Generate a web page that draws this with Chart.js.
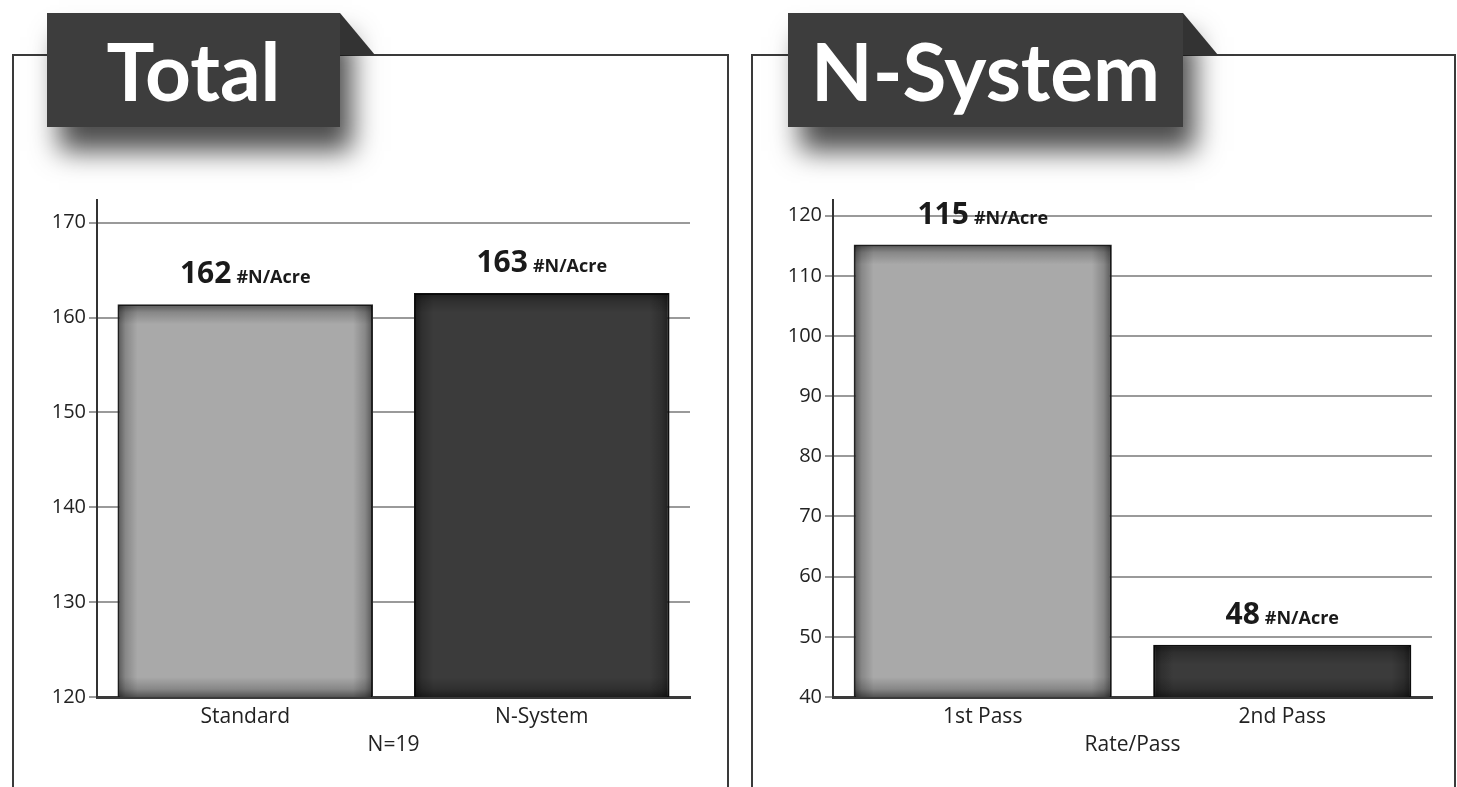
<!DOCTYPE html>
<html>
<head>
<meta charset="utf-8">
<script src="https://cdn.jsdelivr.net/npm/chart.js@4.4.1/dist/chart.umd.min.js"></script>
<style>
  body { margin: 0; width: 1457px; height: 787px; overflow: hidden; background: #fff; position: relative; }
  .frame { position: absolute; top: 54px; height: 800px; border: 2px solid #3a3a3a; box-sizing: border-box; }
  #frameL { left: 12px; width: 717px; }
  #frameR { left: 751px; width: 705px; }
  .tab { position: absolute; top: 13px; height: 114px; background: #3d3d3d; color: #fff;
         font: bold 80px Lato, sans-serif; line-height: 114px; text-align: center;
         box-shadow: 12px 24px 26px rgba(0,0,0,0.7); }
  .fold { position: absolute; top: 13px; width: 35px; height: 42px; background: #333;
          clip-path: polygon(0 0, 100% 100%, 0 100%); }
  .box { position: absolute; top: 185px; height: 600px; }
</style>
</head>
<body>
<div class="frame" id="frameL"></div>
<div class="frame" id="frameR"></div>
<div class="tab" style="left:47px;width:293px">Total</div>
<div class="fold" style="left:340px"></div>
<div class="tab" style="left:788px;width:395px">N-System</div>
<div class="fold" style="left:1183px"></div>

<div class="box" style="left:20px;width:680px"><canvas id="totalChart"></canvas></div>
<div class="box" style="left:760px;width:682px"><canvas id="passChart"></canvas></div>

<script>
// Data
const totalCats = ["Standard", "N-System"];
const totalValues = [161.4, 162.6];
const totalTags = ["162", "163"];
const totalTicks = [120, 130, 140, 150, 160, 170];

const passCats = ["1st Pass", "2nd Pass"];
const passValues = [115.2, 48.7];
const passTags = ["115", "48"];
const passTicks = [40, 50, 60, 70, 80, 90, 100, 110, 120];

const UNIT = "#N/Acre";
const barColors = ["#a9a9a9", "#3b3b3b"];
const barEdges = ["#2a2a2a", "#111"];
const FONT = "'Open Sans', sans-serif";

// darkened inner edges on each bar
const bevel = {
    id: "bevel",
    afterDatasetsDraw(chart) {
        const ctx = chart.ctx;
        const yScale = chart.scales.y;
        const bottom = yScale.getPixelForValue(yScale.min);
        chart.getDatasetMeta(0).data.forEach(function (bar) {
            const l = bar.x - bar.width / 2, r = bar.x + bar.width / 2, t = bar.y, b = bottom;
            const d = 20;
            ctx.save();
            ctx.beginPath();
            ctx.rect(l + 1, t + 1, r - l - 2, b - t - 1);
            ctx.clip();
            const sides = [
                [l, t, l + d, t, l, t, d, b - t],
                [r, t, r - d, t, r - d, t, d, b - t],
                [l, t, l, t + d, l, t, r - l, d],
                [l, b, l, b - d, l, b - d, r - l, d]
            ];
            sides.forEach(function (s) {
                const g = ctx.createLinearGradient(s[0], s[1], s[2], s[3]);
                g.addColorStop(0, "rgba(0,0,0,0.5)");
                g.addColorStop(0.4, "rgba(0,0,0,0.2)");
                g.addColorStop(1, "rgba(0,0,0,0)");
                ctx.fillStyle = g;
                ctx.fillRect(s[4], s[5], s[6], s[7]);
            });
            ctx.restore();
        });
    }
};

// "162 #N/Acre" above each bar
const valueTag = {
    id: "valueTag",
    afterDatasetsDraw(chart, args, opts) {
        const ctx = chart.ctx;
        chart.getDatasetMeta(0).data.forEach(function (bar, i) {
            const num = opts.tags[i];
            ctx.save();
            ctx.fillStyle = "#1a1a1a";
            ctx.textBaseline = "alphabetic";
            ctx.textAlign = "left";
            ctx.font = "bold 30px " + FONT;
            const w1 = ctx.measureText(num).width;
            ctx.font = "bold 18px " + FONT;
            const w2 = ctx.measureText(UNIT).width;
            const gap = 5;
            const x0 = bar.x - (w1 + gap + w2) / 2;
            const yb = bar.y - 21;
            ctx.font = "bold 30px " + FONT;
            ctx.fillText(num, x0, yb);
            ctx.font = "bold 18px " + FONT;
            ctx.fillText(UNIT, x0 + w1 + gap, yb);
            ctx.restore();
        });
    }
};

function makeChart(id, cats, values, tags, ticks, top, title, axisWidth) {
    const step = ticks[1] - ticks[0];
    return new Chart(document.getElementById(id), {
        type: "bar",
        data: {
            labels: cats,
            datasets: [{
                data: values,
                backgroundColor: barColors,
                borderColor: barEdges,
                borderWidth: 2,
                borderSkipped: false,
                categoryPercentage: 1,
                barPercentage: 0.862
            }]
        },
        plugins: [bevel, valueTag],
        options: {
            responsive: false,
            animation: false,
            maintainAspectRatio: false,
            layout: { padding: { top: 12, right: 10, left: 0, bottom: 0 } },
            plugins: {
                legend: { display: false },
                tooltip: { enabled: false },
                valueTag: { tags: tags }
            },
            scales: {
                x: {
                    grid: { display: false, drawTicks: false },
                    border: { display: true, color: "#3a3a3a", width: 3 },
                    ticks: { color: "#222", padding: 7, font: { family: FONT, size: 21 } },
                    title: { display: true, text: title, color: "#222",
                             font: { family: FONT, size: 21 }, padding: { top: 0, bottom: 27 } },
                    afterFit: function (s) { s.height = 88; }
                },
                y: {
                    min: ticks[0],
                    max: top,
                    grid: { color: "#9a9a9a", lineWidth: 2, tickLength: 8, tickColor: "#9a9a9a" },
                    border: { display: true, color: "#333", width: 2 },
                    ticks: { stepSize: step, includeBounds: false, color: "#222", padding: 3,
                             font: { family: FONT, size: 20 } },
                    afterBuildTicks: function (s) {
                        s.ticks = ticks.map(function (v) { return { value: v }; });
                    },
                    afterFit: function (s) { s.width = axisWidth; }
                }
            }
        }
    });
}

const boxes = document.querySelectorAll(".box");
boxes.forEach(function (b) {
    const c = b.querySelector("canvas");
    c.width = b.clientWidth;
    c.height = b.clientHeight;
});

makeChart("totalChart", totalCats, totalValues, totalTags, totalTicks, 172.4, "N=19", 77);
makeChart("passChart", passCats, passValues, passTags, passTicks, 122.6, "Rate/Pass", 73);
</script>
</body>
</html>
